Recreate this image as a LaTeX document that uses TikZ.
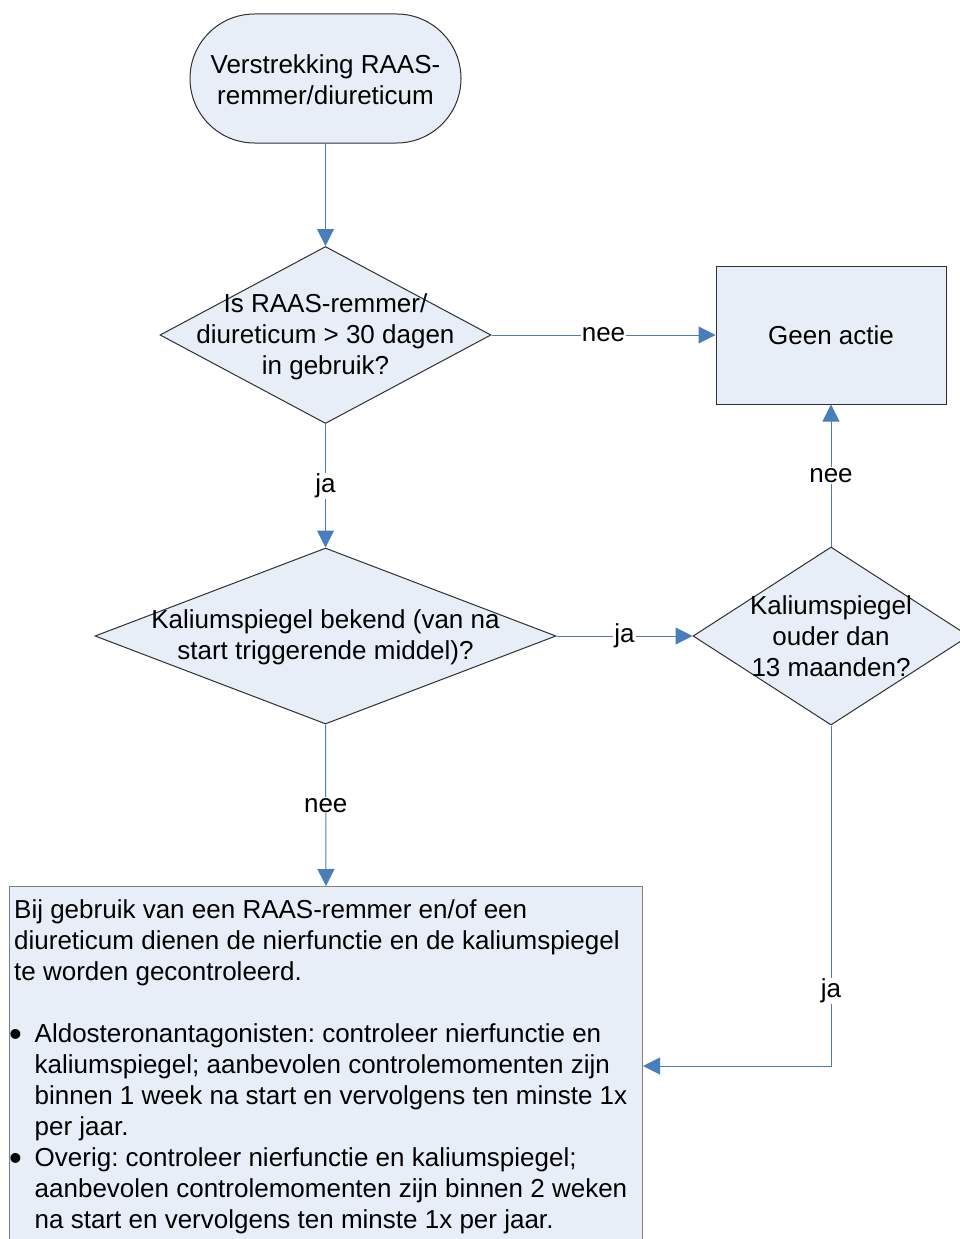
\documentclass[tikz,border=0pt]{standalone}
\usepackage{fontspec}
\setmainfont{Liberation Sans}
\usetikzlibrary{arrows.meta,shapes.geometric}
\definecolor{boxfill}{HTML}{E8EEF7}
\definecolor{linkblue}{HTML}{4A7EBB}
\definecolor{edgedark}{HTML}{303030}
\definecolor{edgegray}{HTML}{7F7F7F}
\newcommand{\bigbul}{\makebox[20.5pt][l]{\hspace*{-5pt}\raisebox{-4.5pt}{\scalebox{1.4}{•}}}}
\newcommand{\hang}{\hspace*{20.5pt}}
\begin{document}
\frenchspacing
\begin{tikzpicture}[x=1pt,y=-1pt,
  every node/.style={font=\fontsize{26}{31}\selectfont\frenchspacing},
  shapebox/.style={draw=edgedark, line width=1pt, fill=boxfill},
  dia/.style={shapebox, diamond, inner sep=0pt},
  link/.style={draw=linkblue, line width=1pt, -{Triangle[length=17pt,width=17pt]}},
  lbl/.style={fill=white, inner sep=1pt}
]
\useasboundingbox (0,0) rectangle (960,1239);
\fill[white] (0,0) rectangle (960,1239);
\node[shapebox, rounded corners=64.5pt, minimum width=271pt, minimum height=129pt, align=center, label={[align=center, yshift=-1pt]center:{Verstrekking RAAS-\\remmer/diureticum}}] (start) at (325.5,78.5) {};
\node[dia, minimum width=331pt, minimum height=177pt, label={[align=center, yshift=-1.5pt]center:{Is RAAS-remmer/\\diureticum > 30 dagen\\in gebruik?}}] (q1) at (325.5,335) {};
\node[shapebox, minimum width=230pt, minimum height=138pt] (none) at (831,335) {Geen actie};
\node[dia, minimum width=461pt, minimum height=176pt, label={[align=center, yshift=-1pt]center:{Kaliumspiegel bekend (van na\\start triggerende middel)?}}] (q2) at (325.5,636) {};
\node[dia, minimum width=276pt, minimum height=178pt, label={[align=center, yshift=-0.5pt]center:{Kaliumspiegel\\ouder dan\\13 maanden?}}] (q3) at (831,636) {};
\node[shapebox, draw=edgegray, anchor=north west, minimum width=633pt, minimum height=400pt, inner sep=0pt] (adv) at (9,886) {};
\node[anchor=north west, align=left, inner sep=0pt] (advtext) at (14,893) {\rule{0pt}{25pt}Bij gebruik van een RAAS-remmer en/of een\\
diureticum dienen de nierfunctie en de kaliumspiegel\\
te worden gecontroleerd.\\
\mbox{}\\
\bigbul Aldosteronantagonisten: controleer nierfunctie en\\
\hang kaliumspiegel; aanbevolen controlemomenten zijn\\
\hang binnen 1 week na start en vervolgens ten minste 1x\\
\hang per jaar.\\
\bigbul Overig: controleer nierfunctie en kaliumspiegel;\\
\hang aanbevolen controlemomenten zijn binnen 2 weken\\
\hang na start en vervolgens ten minste 1x per jaar.};
\coordinate (bend) at (831,1066);
\draw[link] (start.south) -- (q1.north);
\draw[link] (q1.east) -- node[lbl]{nee} (none.west);
\draw[link] (q1.south) -- node[lbl]{ja} (q2.north);
\draw[link] (q2.east) -- node[lbl]{ja} (q3.west);
\draw[link] (q3.north) -- node[lbl]{nee} (none.south);
\draw[link] (q2.south) -- node[lbl]{nee} (adv.north);
\draw[link] (q3.south) -- node[lbl, pos=0.78]{ja} (bend) -- (adv.east |- bend);
\end{tikzpicture}
\end{document}
